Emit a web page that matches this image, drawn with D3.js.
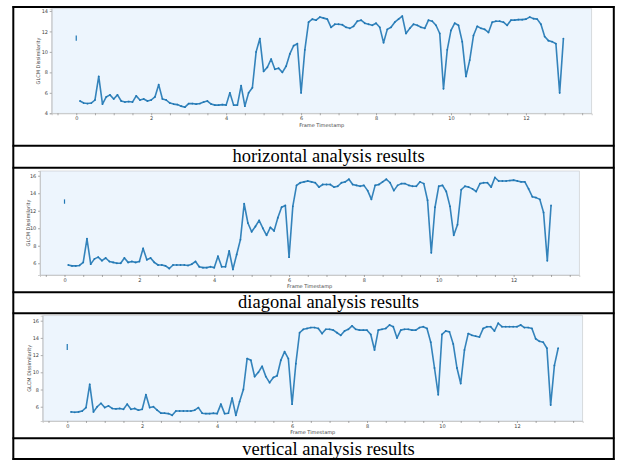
<!DOCTYPE html>
<html>
<head>
<meta charset="utf-8">
<script src="https://cdn.jsdelivr.net/npm/d3@7"></script>
<style>
body{margin:0;background:#fff;}
svg{display:block;}
.tick text{font-family:"DejaVu Sans",sans-serif;font-size:5px;fill:#444;}
.tick line{stroke:#777;stroke-width:0.6;}
.axis path{stroke:#bbb;stroke-width:0.7;}
</style>
</head>
<body>
<svg id="fig" width="617" height="460"></svg>
<script>
// data: GLCM dissimilarity per frame timestamp, one reading every 0.1 s from 0.1 to 13.1
const frameStep = 0.1;
const horizontal = [
 5.2,5.0,4.95,5.0,5.3,7.6,4.9,5.6,5.8,5.4,
 5.8,5.2,5.1,5.15,5.1,5.7,5.3,5.4,5.2,5.3,
 5.6,6.8,5.4,5.3,5.0,4.9,4.85,4.7,4.6,4.95,
 4.95,4.9,4.95,5.1,5.2,4.9,4.8,4.8,4.85,4.8,
 6.0,4.8,4.8,6.7,4.7,6.0,6.5,10.0,11.3,8.1,
 8.5,9.3,8.3,8.4,8.0,8.6,9.8,10.6,10.8,6.0,
 10.2,12.9,13.2,13.1,13.4,13.3,13.2,12.4,12.7,12.7,
 12.65,12.4,12.3,12.5,13.0,13.1,12.8,12.7,12.6,12.8,
 12.4,10.9,12.2,12.4,12.9,13.2,13.5,11.8,12.3,12.7,
 12.6,12.4,12.3,13.1,13.0,12.6,11.8,6.4,10.2,12.1,
 12.8,12.6,11.0,7.6,9.2,11.6,12.5,12.3,12.2,11.9,
 12.9,13.0,13.0,12.9,12.6,13.1,13.1,13.15,13.15,13.2,
 13.4,13.25,13.2,12.7,11.5,11.1,11.0,10.8,6.0,11.3,
 null
];
const diagonal = [
 5.8,5.7,5.7,5.75,6.1,8.8,5.9,6.5,6.7,6.3,
 6.6,6.2,6.1,6.0,6.0,6.6,6.1,6.2,6.1,6.2,
 7.7,6.4,6.6,6.1,5.8,5.8,5.7,5.4,5.8,5.8,
 5.8,5.8,5.75,5.9,6.2,5.6,5.5,5.5,5.6,5.5,
 6.8,5.6,5.6,7.4,5.3,7.0,8.7,12.8,10.6,9.6,
 10.2,10.9,10.0,9.2,10.1,9.7,11.2,12.4,12.6,6.7,
 12.5,14.9,15.2,15.3,15.4,15.3,15.2,14.7,15.0,15.0,
 15.0,14.7,14.8,15.2,15.3,15.6,15.0,14.9,14.8,14.9,
 14.3,13.3,14.9,15.0,15.3,15.6,15.2,14.3,14.9,15.1,
 15.1,14.9,14.8,14.8,15.3,15.1,13.2,7.2,12.4,14.8,
 14.9,14.2,12.5,9.2,10.4,14.4,14.8,14.7,14.5,14.2,
 15.1,15.2,15.2,14.7,15.8,15.4,15.4,15.4,15.45,15.5,
 15.4,15.3,15.3,14.5,13.6,13.5,13.3,11.8,6.3,12.6,
 null
];
const vertical = [
 5.4,5.35,5.4,5.5,5.9,8.6,5.4,6.0,6.4,5.9,
 6.1,5.8,5.75,5.8,5.7,6.3,5.7,5.8,5.6,5.7,
 7.4,5.9,6.0,5.6,5.25,5.25,5.2,5.0,5.5,5.5,
 5.5,5.5,5.5,5.6,5.9,5.25,5.2,5.2,5.25,5.2,
 6.3,5.2,5.25,7.0,5.0,6.6,8.0,11.6,11.4,9.5,
 10.0,10.7,9.5,8.8,9.4,9.6,11.4,12.4,11.6,6.3,
 11.0,14.6,15.0,15.1,15.2,15.2,15.1,14.5,15.0,15.0,
 14.9,14.6,14.3,14.8,15.0,15.4,15.0,14.9,14.9,14.9,
 14.4,12.6,14.9,15.0,15.1,15.5,15.3,14.0,14.9,15.0,
 15.0,14.9,14.9,15.2,15.3,15.1,13.5,10.5,7.4,14.4,
 14.8,14.7,13.3,10.5,8.7,12.6,14.5,14.3,14.2,14.1,
 15.1,15.3,15.3,14.8,15.7,15.3,15.3,15.3,15.3,15.3,
 15.5,15.2,15.2,15.1,13.9,13.6,13.5,12.8,6.2,10.8,
 12.8
];
// isolated readings at frame 0 (low, high)
const horizontalFirst = [11.1, 11.6];
const diagonalFirst = [12.8, 13.3];
const verticalFirst = [12.6, 13.3];

const captions = ["horizontal analysis results", "diagonal analysis results", "vertical analysis results"];
const yTicksH = [4, 6, 8, 10, 12, 14];
const yTicksDV = [6, 8, 10, 12, 14, 16];
const xLabelTicks = [0, 2, 4, 6, 8, 10, 12];

// layout
const panels = [
  {values: horizontal, first: horizontalFirst, yDomain: [4, 14.22], yTicks: yTicksH,
   x0: 51.7, x1: 591.7, y0: 8.7, y1: 113.3, ylabX: 38.7, xlabY: 125.5, capY: 162},
  {values: diagonal, first: diagonalFirst, yDomain: [4.66, 16.54], yTicks: yTicksDV,
   x0: 40, x1: 579.3, y0: 171, y1: 275, ylabX: 28.3, xlabY: 287, capY: 308},
  {values: vertical, first: verticalFirst, yDomain: [4.34, 16.58], yTicks: yTicksDV,
   x0: 42.7, x1: 582.7, y0: 315.7, y1: 421, ylabX: 30, xlabY: 433, capY: 455}
];
const xDomain = [-0.655, 13.755];
const lineColor = "#1f77b4";

const svg = d3.select("#fig");

panels.forEach((p, k) => {
  const x = d3.scaleLinear().domain(xDomain).range([p.x0, p.x1]);
  const y = d3.scaleLinear().domain(p.yDomain).range([p.y1, p.y0]);
  const g = svg.append("g").attr("class", "panel");

  g.append("rect")
    .attr("x", p.x0).attr("y", p.y0)
    .attr("width", p.x1 - p.x0).attr("height", p.y1 - p.y0)
    .attr("fill", "#edf5fd").attr("stroke", "#c9ccd0").attr("stroke-width", 0.7);

  const pts = p.values.map((v, i) => ({t: (i + 1) * frameStep, v: v}));
  const line = d3.line().defined(d => d.v !== null).x(d => x(d.t)).y(d => y(d.v));

  g.append("path").datum(pts)
    .attr("d", line)
    .attr("fill", "none")
    .attr("stroke", lineColor)
    .attr("stroke-width", 1.6)
    .attr("stroke-linejoin", "round")
    .attr("stroke-opacity", 0.9);

  g.selectAll("circle").data(pts.filter(d => d.v !== null)).join("circle")
    .attr("cx", d => x(d.t)).attr("cy", d => y(d.v))
    .attr("r", 0.9).attr("fill", lineColor);

  g.append("line")
    .attr("x1", x(0)).attr("x2", x(0))
    .attr("y1", y(p.first[0])).attr("y2", y(p.first[1]))
    .attr("stroke", lineColor).attr("stroke-width", 1.2);

  const xAxis = d3.axisBottom(x)
    .tickValues(d3.range(-0.5, 13.6, 0.5))
    .tickSize(2).tickPadding(1.2)
    .tickFormat(d => xLabelTicks.includes(d) ? d : "");
  g.append("g").attr("class", "axis")
    .attr("transform", `translate(0,${p.y1})`)
    .call(xAxis);

  const yAxis = d3.axisLeft(y).tickValues(p.yTicks).tickSize(2).tickPadding(1.7);
  g.append("g").attr("class", "axis")
    .attr("transform", `translate(${p.x0},0)`)
    .call(yAxis);

  g.append("text")
    .attr("x", (p.x0 + p.x1) / 2).attr("y", p.xlabY)
    .attr("text-anchor", "middle").attr("dominant-baseline", "middle")
    .style("font-family", "DejaVu Sans, sans-serif").style("font-size", "5px").attr("fill", "#444")
    .text("Frame Timestamp");

  g.append("text")
    .attr("transform", `translate(${p.ylabX},${(p.y0 + p.y1) / 2}) rotate(-90)`)
    .attr("text-anchor", "middle").attr("dominant-baseline", "middle")
    .style("font-family", "DejaVu Sans, sans-serif").style("font-size", "5px").attr("fill", "#444")
    .text("GLCM Dissimilarity");

  svg.append("text")
    .attr("x", 328.5).attr("y", p.capY)
    .attr("text-anchor", "middle")
    .style("font-family", "Liberation Serif, Times New Roman, serif").style("font-size", "18.5px")
    .attr("fill", "#000")
    .text(captions[k]);
});

// table rules
const rowLines = [7, 145.8, 167.7, 292.2, 313.3, 438.2, 459];
svg.selectAll("line.rule").data(rowLines).join("line")
  .attr("class", "rule")
  .attr("x1", 12.5).attr("x2", 614.5)
  .attr("y1", d => d).attr("y2", d => d)
  .attr("stroke", "#000").attr("stroke-width", 2);
svg.selectAll("line.side").data([13.3, 613.8]).join("line")
  .attr("class", "side")
  .attr("x1", d => d).attr("x2", d => d)
  .attr("y1", 6).attr("y2", 460)
  .attr("stroke", "#000").attr("stroke-width", 2);
</script>
</body>
</html>
